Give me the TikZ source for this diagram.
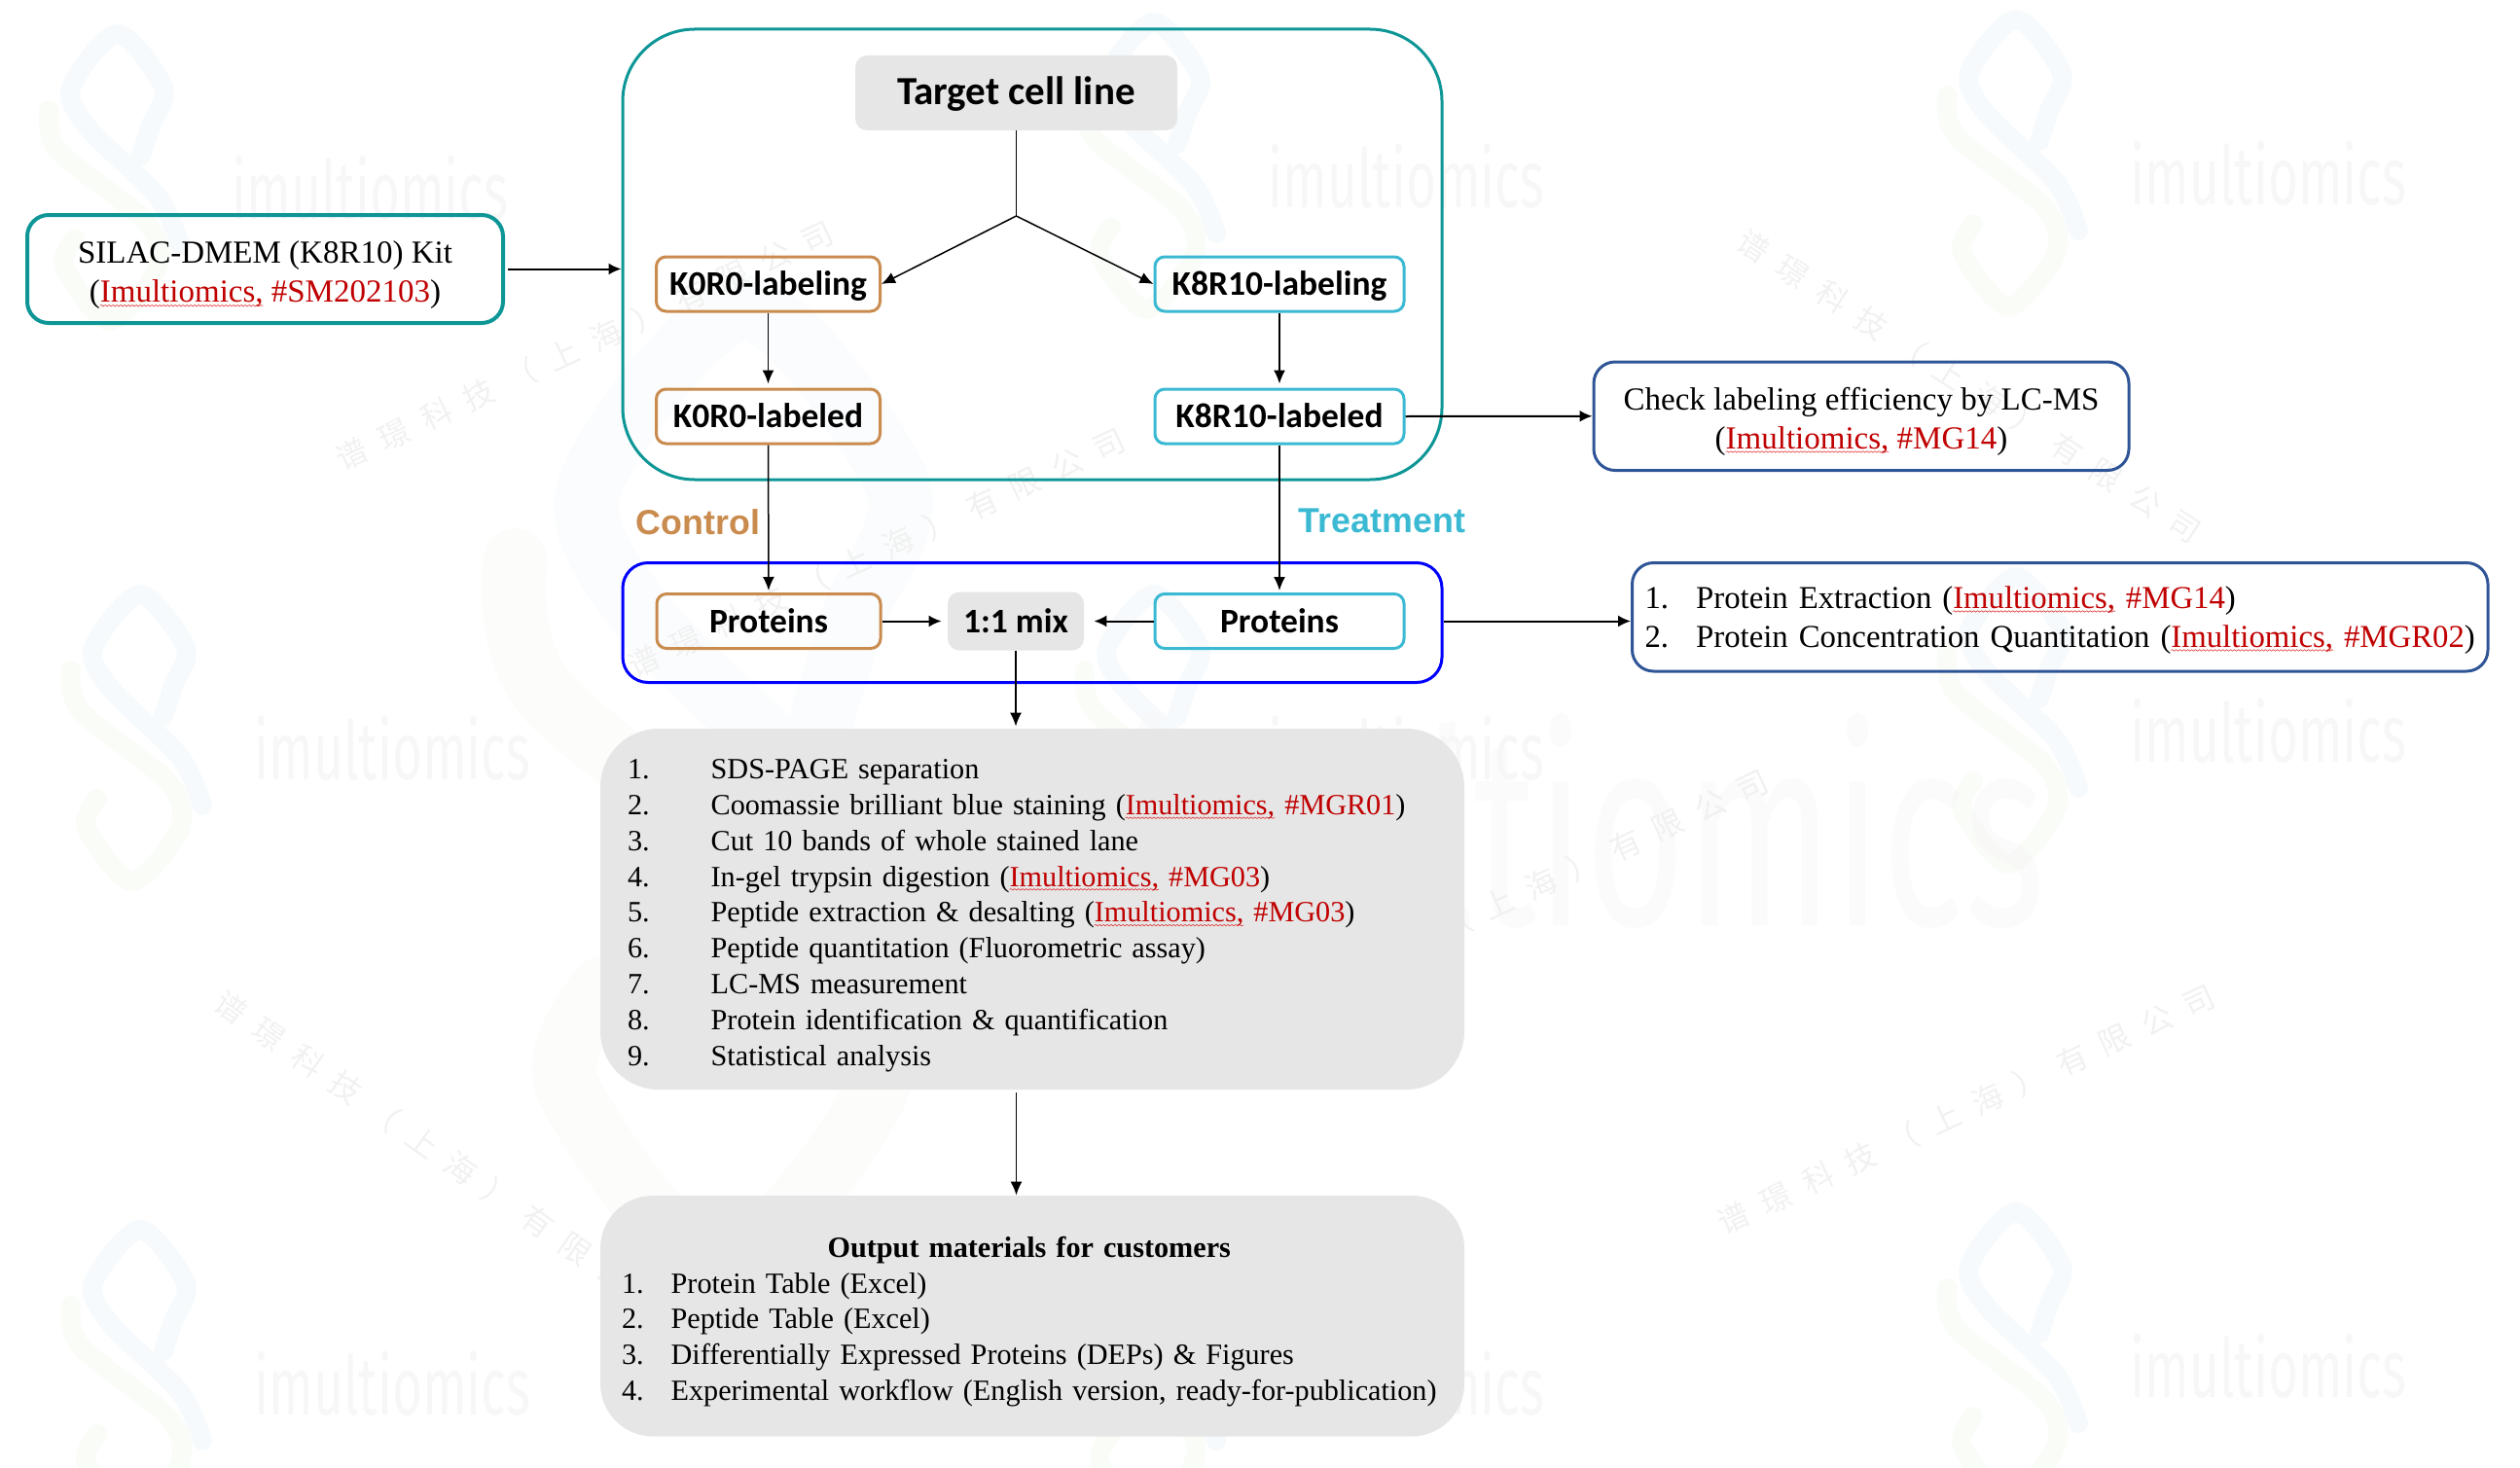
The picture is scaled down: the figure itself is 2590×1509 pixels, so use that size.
\documentclass[tikz,border=0pt]{standalone}
\usepackage{fontspec}
\setmainfont{Liberation Serif}
\newfontfamily\labelfont{Carlito}
\newfontfamily\armfont{Liberation Sans}
\newfontfamily\wmfont{Fira Sans}
\newfontfamily\cjk[LetterSpace=50]{Noto Sans CJK SC}
\usetikzlibrary{arrows.meta,decorations.pathmorphing}

\definecolor{kitteal}{HTML}{0E9696}
\definecolor{ctrlorange}{HTML}{C98B4E}
\definecolor{treatcyan}{HTML}{3BB9D3}
\definecolor{navyline}{HTML}{2F5597}
\definecolor{fillgray}{HTML}{E6E6E6}
\definecolor{imured}{HTML}{C00000}
\definecolor{wavered}{HTML}{E03030}
\definecolor{logoblue}{HTML}{F6FAFC}
\definecolor{logogreen}{HTML}{FAFCF8}
\definecolor{wmgray}{HTML}{F7F7F7}
\definecolor{wmcn}{HTML}{F1F1F1}

\newlength{\imuw}
\newcommand{\imu}[1]{{\color{imured}\settowidth{\imuw}{Imultiomics,}\rlap{\tikz[baseline=0pt]{\useasboundingbox (0pt,0pt);
  \path[draw=wavered,fill=none,sharp corners,line width=0.3pt,decorate,decoration={snake,amplitude=0.35pt,segment length=2pt}]
  (0pt,-1.6pt) -- (\imuw,-1.6pt);}}Imultiomics, #1}}
\newcommand{\wmlogo}[4]{%
\begin{scope}[shift={(#1,#2)},scale=#3,opacity=#4,line cap=round]
\draw[logoblue,line width=#3*10pt] plot[smooth] coordinates
  {(24,136) (34,105) (47,66) (0,11) (-48,66) (-30,108) (41,178) (64,228)};
\draw[logogreen,line width=#3*10pt] plot[smooth] coordinates
  {(-71,89) (-61,131) (29,204) (41,251) (-8,306) (-55,251) (-44,221)};
\node[wmgray,font=\wmfont\fontsize{42}{42}\selectfont,transform shape] (wm#1x#2) at (259.5,169.5)
  {\scalebox{0.634}[1]{imultiomics}};
\end{scope}}

\tikzset{
  boxbase/.style={rounded corners=#1,inner sep=0pt,align=center},
  cellframe/.style={boxbase=37pt,draw=kitteal,line width=1.5pt,minimum width=421pt,minimum height=231.5pt},
  mixframe/.style={boxbase=13pt,draw=blue,line width=1.5pt,minimum width=421pt,minimum height=61.5pt},
  kitbox/.style={boxbase=11pt,draw=kitteal,line width=2pt,font=\fontsize{16.5}{20}\selectfont},
  checkbox/.style={boxbase=11pt,draw=navyline,line width=1.5pt,font=\fontsize{16.5}{20}\selectfont},
  ctrlbox/.style={boxbase=5pt,draw=ctrlorange,line width=1.5pt,minimum width=115pt,minimum height=28pt,text height=13pt,text depth=1.5pt,font=\labelfont\bfseries\fontsize{17.75}{20}\selectfont},
  treatbox/.style={boxbase=5pt,draw=treatcyan,line width=1.5pt,minimum width=128pt,minimum height=28pt,text height=13pt,text depth=1.5pt,font=\labelfont\bfseries\fontsize{17.75}{20}\selectfont},
  graybox/.style={boxbase=#1,fill=fillgray,align=left,font=\fontsize{15.1}{18.4}\selectfont},
  grayhead/.style={boxbase=6pt,fill=fillgray,font=\labelfont\bfseries},
  flow/.style={-{Latex[length=7pt,width=6pt]},line width=0.75pt},
  flowthick/.style={-{Latex[length=6.5pt,width=6pt]},line width=1pt},
}

\begin{document}
\begin{tikzpicture}[x=0.5pt,y=-0.5pt]
\useasboundingbox (0,0) rectangle (2590,1509);

% faint background marks
\foreach \lx/\ly in {121/24,1186/12,2072/9,144/600,1186/600,2072/582,144/1253,1186/1253,2072/1235}
  {\wmlogo{\lx}{\ly}{1}{1}}
\wmlogo{766}{280}{3.33}{0.5}
\node[wmcn,rotate=25,font=\cjk\fontsize{16}{16}\selectfont] (wmcnA) at (601,355) {谱璟科技（上海）有限公司};
\node[wmcn,rotate=25,font=\cjk\fontsize{16}{16}\selectfont] (wmcnB) at (901,568) {谱璟科技（上海）有限公司};
\node[wmcn,rotate=25,font=\cjk\fontsize{16}{16}\selectfont] (wmcnC) at (1562,919) {谱璟科技（上海）有限公司};
\node[wmcn,rotate=25,font=\cjk\fontsize{16}{16}\selectfont] (wmcnD) at (2021,1140) {谱璟科技（上海）有限公司};
\node[wmcn,rotate=-33,font=\cjk\fontsize{16}{16}\selectfont] (wmcnE) at (2024,397) {谱璟科技（上海）有限公司};
\node[wmcn,rotate=-35,font=\cjk\fontsize{16}{16}\selectfont] (wmcnF) at (454,1187) {谱璟科技（上海）有限公司};

% frames
\node[cellframe] (cellline) at (1061,261.5) {};
\node[mixframe] (mixline) at (1061,640) {};

% cell line part
\node[grayhead,minimum width=165.5pt,minimum height=38.5pt,text height=14pt,text depth=1.6pt,font=\labelfont\bfseries\fontsize{20.5}{24}\selectfont] (target) at (1044.5,95.5) {Target cell line};
\coordinate (fork) at (1044.5,222);
\node[ctrlbox] (k0labeling) at (789.5,292) {K0R0-labeling};
\node[ctrlbox] (k0labeled) at (789.5,428) {K0R0-labeled};
\node[ctrlbox] (k0proteins) at (790,638.5) {Proteins};
\node[treatbox] (k8labeling) at (1315,292) {K8R10-labeling};
\node[treatbox] (k8labeled) at (1315,428) {K8R10-labeled};
\node[treatbox] (k8proteins) at (1315,638.5) {Proteins};
\node[grayhead,minimum width=70pt,minimum height=30pt,font=\labelfont\bfseries\fontsize{17.75}{20}\selectfont] (mix) at (1044,638.5) {1:1 mix};

% side boxes
\node[kitbox,minimum width=244.5pt,minimum height=55.5pt] (kit) at (272.5,276.5)
  {\rule{0pt}{18pt}SILAC-DMEM (K8R10) Kit\\(\imu{\#SM202103})};
\node[checkbox,minimum width=275pt,minimum height=55.75pt] (check) at (1913,427.75)
  {\rule{0pt}{17pt}Check labeling efficiency by LC-MS\\(\imu{\#MG14})};
\node[checkbox,minimum width=439.75pt,minimum height=55.75pt,align=left,text width=426.75pt,inner xsep=6.5pt,font=\fontsize{16.4}{20}\selectfont] (extract) at (2117.25,634.25)
  {\begin{tabular}{@{}l@{\hspace{14pt}}l@{}}
  \rule{0pt}{17pt}1. & Protein Extraction (\imu{\#MG14})\\
  2. & Protein Concentration Quantitation (\imu{\#MGR02})
  \end{tabular}};

\node[font=\armfont\bfseries\fontsize{17.9}{20}\selectfont,text=ctrlorange] (control) at (717.5,537) {Control};
\node[font=\armfont\bfseries\fontsize{17.9}{20}\selectfont,text=treatcyan] (treatment) at (1420.5,535) {Treatment};

% lists
\node[graybox=30pt,minimum width=444pt,minimum height=185.5pt,text width=430pt,inner xsep=7pt] (steps) at (1061,934.5)
  {\hspace{7pt}\begin{tabular}{@{}l@{\hspace{31.5pt}}l@{}}
  \rule{0pt}{18.9pt}1. & SDS-PAGE separation\\
  2. & Coomassie brilliant blue staining (\imu{\#MGR01})\\
  3. & Cut 10 bands of whole stained lane\\
  4. & In-gel trypsin digestion (\imu{\#MG03})\\
  5. & Peptide extraction \& desalting (\imu{\#MG03})\\
  6. & Peptide quantitation (Fluorometric assay)\\
  7. & LC-MS measurement\\
  8. & Protein identification \& quantification\\
  9. & Statistical analysis
  \end{tabular}};
\node[graybox=27pt,minimum width=444pt,minimum height=123.75pt,text width=422pt,inner xsep=11pt] (output) at (1061,1352.75)
  {\begin{tabular}{@{}l@{\hspace{14pt}}l@{}}
  \multicolumn{2}{c}{\rule{0pt}{18.7pt}\textbf{Output materials for customers}}\\
  1. & Protein Table (Excel)\\
  2. & Peptide Table (Excel)\\
  3. & Differentially Expressed Proteins (DEPs) \& Figures\\
  4. & Experimental workflow (English version, ready-for-publication)
  \end{tabular}};

% connectors
\draw[line width=0.75pt] (target.south) -- (fork);
\draw[flow] (fork) -- (k0labeling.east);
\draw[flow] (fork) -- (k8labeling.west);
\draw[flow,shorten >=2pt] (k0labeling) -- (k0labeled);
\draw[flow,shorten >=2pt] (k8labeling) -- (k8labeled);
\draw[flow,shorten >=1pt] (k0labeled) -- (k0proteins);
\draw[flow,shorten >=1pt] (k8labeled) -- (k8proteins);
\draw[flowthick,shorten <=1.5pt] (kit.east) -- (kit.east -| cellline.west);
\draw[flowthick] (k8labeled.east) -- (check.west);
\draw[flowthick,shorten >=3pt] (k0proteins.east) -- (mix.west);
\draw[flowthick,shorten >=5pt] (k8proteins.west) -- (mix.east);
\draw[flowthick] (k8proteins -| mixline.east) -- (k8proteins -| extract.west);
\draw[flow,shorten >=1pt] (mix.south) -- (mix.south |- steps.north);
\draw[flow,shorten <=1.5pt] (steps.south -| target) -- (output.north -| target);
\end{tikzpicture}
\end{document}
